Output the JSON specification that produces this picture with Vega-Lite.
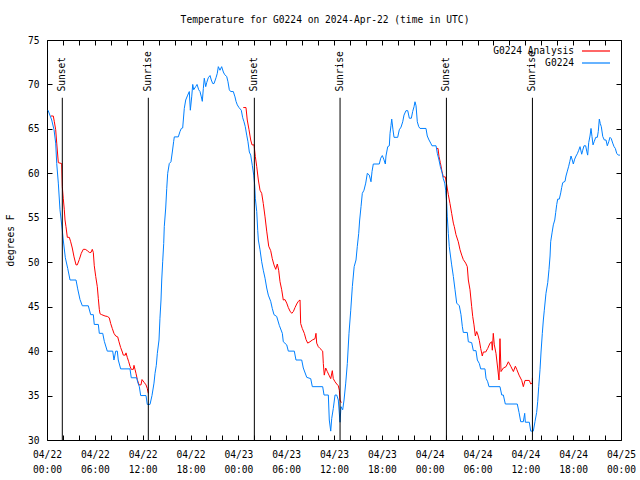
{
"$schema": "https://vega.github.io/schema/vega-lite/v6.json",
"width": 574, "height": 400,
"autosize": {"type": "none"},
"padding": {"left": 47, "top": 40, "right": 19, "bottom": 40},
"background": "white",
"title": {"text": "Temperature for G0224 on 2024-Apr-22 (time in UTC)", "font": "DejaVu Sans Mono", "fontSize": 9.6, "fontWeight": "normal", "color": "black", "anchor": "middle", "dx": -9, "offset": 0, "baseline": "bottom"},
"datasets": {
"obs": [
{"hours_utc":0.13,"temp_f":67.1},{"hours_utc":0.59,"temp_f":66.0},{"hours_utc":0.88,"temp_f":64.9},{"hours_utc":1.09,"temp_f":63.4},{"hours_utc":1.22,"temp_f":61.1},{"hours_utc":1.42,"temp_f":58.9},{"hours_utc":1.63,"temp_f":55.9},{"hours_utc":1.92,"temp_f":53.6},{"hours_utc":2.04,"temp_f":52.5},{"hours_utc":2.30,"temp_f":50.5},{"hours_utc":2.60,"temp_f":49.3},{"hours_utc":2.89,"temp_f":48.0},{"hours_utc":3.64,"temp_f":48.0},{"hours_utc":3.85,"temp_f":47.0},{"hours_utc":4.14,"temp_f":45.8},{"hours_utc":4.43,"temp_f":45.1},{"hours_utc":5.18,"temp_f":45.1},{"hours_utc":5.48,"temp_f":44.1},{"hours_utc":5.81,"temp_f":44.1},{"hours_utc":5.93,"temp_f":43.0},{"hours_utc":6.44,"temp_f":43.0},{"hours_utc":6.56,"temp_f":42.0},{"hours_utc":6.99,"temp_f":42.0},{"hours_utc":7.19,"temp_f":41.1},{"hours_utc":7.56,"temp_f":40.0},{"hours_utc":8.24,"temp_f":40.0},{"hours_utc":8.40,"temp_f":39.0},{"hours_utc":8.62,"temp_f":40.0},{"hours_utc":8.82,"temp_f":40.0},{"hours_utc":8.94,"temp_f":39.0},{"hours_utc":9.24,"temp_f":38.0},{"hours_utc":10.41,"temp_f":38.0},{"hours_utc":10.57,"temp_f":37.0},{"hours_utc":11.25,"temp_f":37.0},{"hours_utc":11.38,"temp_f":36.5},{"hours_utc":11.58,"temp_f":36.0},{"hours_utc":11.75,"temp_f":35.0},{"hours_utc":12.42,"temp_f":35.0},{"hours_utc":12.58,"temp_f":34.0},{"hours_utc":12.92,"temp_f":34.0},{"hours_utc":13.17,"temp_f":35.0},{"hours_utc":13.42,"temp_f":36.4},{"hours_utc":13.55,"temp_f":37.5},{"hours_utc":13.71,"temp_f":38.4},{"hours_utc":13.84,"temp_f":39.75},{"hours_utc":14.05,"temp_f":41.25},{"hours_utc":14.17,"temp_f":43.7},{"hours_utc":14.30,"temp_f":45.75},{"hours_utc":14.39,"temp_f":48.0},{"hours_utc":14.51,"temp_f":50.05},{"hours_utc":14.64,"temp_f":52.1},{"hours_utc":14.71,"temp_f":54.0},{"hours_utc":14.89,"temp_f":56.1},{"hours_utc":15.02,"temp_f":58.3},{"hours_utc":15.14,"temp_f":60.0},{"hours_utc":15.34,"temp_f":61.1},{"hours_utc":15.55,"temp_f":61.3},{"hours_utc":15.72,"temp_f":62.4},{"hours_utc":15.89,"temp_f":63.6},{"hours_utc":15.97,"temp_f":64.1},{"hours_utc":16.47,"temp_f":64.1},{"hours_utc":16.68,"temp_f":64.7},{"hours_utc":16.85,"temp_f":65.05},{"hours_utc":17.02,"temp_f":65.1},{"hours_utc":17.22,"temp_f":67.3},{"hours_utc":17.40,"temp_f":68.25},{"hours_utc":17.65,"temp_f":68.8},{"hours_utc":17.85,"temp_f":69.2},{"hours_utc":17.98,"temp_f":67.1},{"hours_utc":18.15,"temp_f":68.6},{"hours_utc":18.28,"temp_f":70.0},{"hours_utc":18.40,"temp_f":69.4},{"hours_utc":18.65,"temp_f":69.75},{"hours_utc":18.82,"temp_f":70.0},{"hours_utc":19.03,"temp_f":69.4},{"hours_utc":19.19,"temp_f":69.2},{"hours_utc":19.36,"temp_f":68.6},{"hours_utc":19.48,"temp_f":68.1},{"hours_utc":19.61,"temp_f":69.55},{"hours_utc":19.73,"temp_f":70.7},{"hours_utc":19.91,"temp_f":69.75},{"hours_utc":20.03,"temp_f":70.2},{"hours_utc":20.23,"temp_f":70.75},{"hours_utc":20.45,"temp_f":71.0},{"hours_utc":20.61,"temp_f":70.5},{"hours_utc":20.79,"temp_f":70.1},{"hours_utc":20.95,"temp_f":70.1},{"hours_utc":21.20,"temp_f":70.75},{"hours_utc":21.36,"temp_f":71.25},{"hours_utc":21.49,"temp_f":72.0},{"hours_utc":21.70,"temp_f":71.6},{"hours_utc":21.91,"temp_f":72.0},{"hours_utc":22.12,"temp_f":71.4},{"hours_utc":22.29,"temp_f":71.1},{"hours_utc":22.54,"temp_f":70.9},{"hours_utc":22.70,"temp_f":70.3},{"hours_utc":22.87,"temp_f":69.4},{"hours_utc":23.04,"temp_f":69.2},{"hours_utc":23.37,"temp_f":69.2},{"hours_utc":23.58,"temp_f":68.6},{"hours_utc":23.71,"temp_f":68.1},{"hours_utc":23.87,"temp_f":67.7},{"hours_utc":24.08,"temp_f":67.4},{"hours_utc":24.37,"temp_f":67.1},{"hours_utc":24.55,"temp_f":66.25},{"hours_utc":24.71,"temp_f":65.8},{"hours_utc":24.87,"temp_f":65.25},{"hours_utc":25.05,"temp_f":64.3},{"hours_utc":25.21,"temp_f":63.55},{"hours_utc":25.38,"temp_f":62.4},{"hours_utc":25.55,"temp_f":62.05},{"hours_utc":25.75,"temp_f":60.9},{"hours_utc":25.93,"temp_f":59.8},{"hours_utc":26.05,"temp_f":58.7},{"hours_utc":26.13,"temp_f":57.2},{"hours_utc":26.31,"temp_f":55.7},{"hours_utc":26.43,"temp_f":53.6},{"hours_utc":26.51,"temp_f":52.5},{"hours_utc":26.72,"temp_f":51.4},{"hours_utc":26.93,"temp_f":50.05},{"hours_utc":27.13,"temp_f":49.1},{"hours_utc":27.35,"temp_f":48.2},{"hours_utc":27.56,"temp_f":47.1},{"hours_utc":27.76,"temp_f":46.3},{"hours_utc":28.06,"temp_f":45.6},{"hours_utc":28.26,"temp_f":44.8},{"hours_utc":28.47,"temp_f":44.1},{"hours_utc":28.81,"temp_f":43.9},{"hours_utc":29.14,"temp_f":42.9},{"hours_utc":29.52,"temp_f":42.0},{"hours_utc":29.64,"temp_f":41.05},{"hours_utc":30.07,"temp_f":40.7},{"hours_utc":30.27,"temp_f":40.0},{"hours_utc":31.02,"temp_f":40.0},{"hours_utc":31.23,"temp_f":39.0},{"hours_utc":31.95,"temp_f":39.0},{"hours_utc":32.15,"temp_f":38.1},{"hours_utc":32.58,"temp_f":37.05},{"hours_utc":33.08,"temp_f":36.9},{"hours_utc":33.28,"temp_f":36.0},{"hours_utc":34.58,"temp_f":36.0},{"hours_utc":34.75,"temp_f":35.06},{"hours_utc":35.29,"temp_f":35.06},{"hours_utc":35.41,"temp_f":32.25},{"hours_utc":35.59,"temp_f":31.0},{"hours_utc":35.71,"temp_f":32.4},{"hours_utc":35.91,"temp_f":33.55},{"hours_utc":36.13,"temp_f":35.06},{"hours_utc":36.34,"temp_f":35.06},{"hours_utc":36.54,"temp_f":34.5},{"hours_utc":36.75,"temp_f":32.0},{"hours_utc":36.88,"temp_f":33.75},{"hours_utc":37.09,"temp_f":33.4},{"hours_utc":37.26,"temp_f":34.5},{"hours_utc":37.47,"temp_f":36.4},{"hours_utc":37.67,"temp_f":38.6},{"hours_utc":37.88,"temp_f":42.0},{"hours_utc":38.10,"temp_f":44.6},{"hours_utc":38.30,"temp_f":47.25},{"hours_utc":38.53,"temp_f":49.5},{"hours_utc":38.76,"temp_f":50.25},{"hours_utc":38.92,"temp_f":51.75},{"hours_utc":39.10,"temp_f":53.25},{"hours_utc":39.22,"temp_f":54.75},{"hours_utc":39.39,"temp_f":56.25},{"hours_utc":39.55,"temp_f":57.75},{"hours_utc":39.76,"temp_f":58.1},{"hours_utc":39.98,"temp_f":58.9},{"hours_utc":40.18,"temp_f":60.0},{"hours_utc":40.43,"temp_f":59.8},{"hours_utc":40.64,"temp_f":59.05},{"hours_utc":40.77,"temp_f":60.2},{"hours_utc":40.93,"temp_f":61.05},{"hours_utc":41.68,"temp_f":61.05},{"hours_utc":41.86,"temp_f":61.7},{"hours_utc":42.06,"temp_f":62.0},{"hours_utc":42.24,"temp_f":61.6},{"hours_utc":42.44,"temp_f":61.05},{"hours_utc":42.52,"temp_f":61.95},{"hours_utc":42.74,"temp_f":63.0},{"hours_utc":42.94,"temp_f":63.1},{"hours_utc":43.03,"temp_f":64.5},{"hours_utc":43.15,"temp_f":65.4},{"hours_utc":43.24,"temp_f":66.1},{"hours_utc":43.40,"temp_f":64.9},{"hours_utc":43.53,"temp_f":64.05},{"hours_utc":43.99,"temp_f":64.05},{"hours_utc":44.19,"temp_f":64.9},{"hours_utc":44.41,"temp_f":65.2},{"hours_utc":44.62,"temp_f":65.8},{"hours_utc":44.78,"temp_f":66.55},{"hours_utc":45.03,"temp_f":67.05},{"hours_utc":45.25,"temp_f":67.05},{"hours_utc":45.45,"temp_f":66.2},{"hours_utc":45.70,"temp_f":66.2},{"hours_utc":45.87,"temp_f":66.95},{"hours_utc":46.04,"temp_f":67.5},{"hours_utc":46.16,"temp_f":68.05},{"hours_utc":46.29,"temp_f":67.6},{"hours_utc":46.45,"temp_f":65.8},{"hours_utc":46.63,"temp_f":65.25},{"hours_utc":46.79,"temp_f":65.05},{"hours_utc":47.54,"temp_f":65.05},{"hours_utc":47.70,"temp_f":64.2},{"hours_utc":47.92,"temp_f":63.75},{"hours_utc":48.13,"temp_f":63.4},{"hours_utc":48.29,"temp_f":63.1},{"hours_utc":48.80,"temp_f":63.1},{"hours_utc":48.96,"temp_f":62.25},{"hours_utc":49.17,"temp_f":61.5},{"hours_utc":49.34,"temp_f":60.75},{"hours_utc":49.55,"temp_f":60.1},{"hours_utc":49.71,"temp_f":59.4},{"hours_utc":49.89,"temp_f":58.9},{"hours_utc":50.01,"temp_f":58.1},{"hours_utc":50.14,"temp_f":56.6},{"hours_utc":50.21,"temp_f":55.1},{"hours_utc":50.34,"temp_f":53.25},{"hours_utc":50.46,"temp_f":51.75},{"hours_utc":50.76,"temp_f":49.7},{"hours_utc":50.97,"temp_f":48.4},{"hours_utc":51.18,"temp_f":46.9},{"hours_utc":51.39,"temp_f":45.4},{"hours_utc":51.72,"temp_f":45.1},{"hours_utc":51.93,"temp_f":44.1},{"hours_utc":52.10,"temp_f":42.75},{"hours_utc":52.22,"temp_f":42.1},{"hours_utc":52.72,"temp_f":42.1},{"hours_utc":52.85,"temp_f":41.05},{"hours_utc":53.27,"temp_f":40.95},{"hours_utc":53.48,"temp_f":40.05},{"hours_utc":53.81,"temp_f":40.05},{"hours_utc":53.98,"temp_f":39.0},{"hours_utc":54.23,"temp_f":38.6},{"hours_utc":54.40,"temp_f":38.0},{"hours_utc":54.94,"temp_f":38.0},{"hours_utc":55.07,"temp_f":36.95},{"hours_utc":55.28,"temp_f":36.55},{"hours_utc":55.44,"temp_f":36.0},{"hours_utc":56.82,"temp_f":36.0},{"hours_utc":57.04,"temp_f":35.06},{"hours_utc":57.24,"temp_f":35.06},{"hours_utc":57.49,"temp_f":34.05},{"hours_utc":58.99,"temp_f":34.05},{"hours_utc":59.21,"temp_f":33.1},{"hours_utc":59.42,"temp_f":32.06},{"hours_utc":59.75,"temp_f":32.06},{"hours_utc":59.92,"temp_f":33.0},{"hours_utc":60.00,"temp_f":32.0},{"hours_utc":60.50,"temp_f":32.0},{"hours_utc":60.68,"temp_f":31.0},{"hours_utc":61.00,"temp_f":31.0},{"hours_utc":61.21,"temp_f":32.06},{"hours_utc":61.42,"temp_f":33.1},{"hours_utc":61.55,"temp_f":34.3},{"hours_utc":61.68,"temp_f":36.0},{"hours_utc":61.84,"temp_f":37.9},{"hours_utc":61.97,"temp_f":39.9},{"hours_utc":62.13,"temp_f":42.0},{"hours_utc":62.26,"temp_f":43.5},{"hours_utc":62.38,"temp_f":44.6},{"hours_utc":62.59,"temp_f":46.5},{"hours_utc":62.81,"temp_f":47.7},{"hours_utc":62.97,"temp_f":49.2},{"hours_utc":63.10,"temp_f":50.7},{"hours_utc":63.18,"temp_f":52.3},{"hours_utc":63.35,"temp_f":53.3},{"hours_utc":63.51,"temp_f":54.2},{"hours_utc":63.69,"temp_f":54.75},{"hours_utc":63.81,"temp_f":55.6},{"hours_utc":63.94,"temp_f":56.5},{"hours_utc":64.06,"temp_f":57.1},{"hours_utc":64.26,"temp_f":57.1},{"hours_utc":64.44,"temp_f":57.8},{"hours_utc":64.56,"temp_f":58.4},{"hours_utc":64.69,"temp_f":58.95},{"hours_utc":64.98,"temp_f":59.1},{"hours_utc":65.10,"temp_f":59.7},{"hours_utc":65.27,"temp_f":60.25},{"hours_utc":65.44,"temp_f":60.8},{"hours_utc":65.57,"temp_f":61.3},{"hours_utc":65.73,"temp_f":61.95},{"hours_utc":65.89,"temp_f":61.5},{"hours_utc":66.02,"temp_f":61.05},{"hours_utc":66.19,"temp_f":61.6},{"hours_utc":66.36,"temp_f":61.95},{"hours_utc":66.52,"temp_f":62.2},{"hours_utc":66.70,"temp_f":62.6},{"hours_utc":66.86,"temp_f":63.0},{"hours_utc":67.07,"temp_f":62.15},{"hours_utc":67.20,"temp_f":62.6},{"hours_utc":67.36,"temp_f":63.1},{"hours_utc":67.57,"temp_f":63.1},{"hours_utc":67.70,"temp_f":62.5},{"hours_utc":67.82,"temp_f":62.05},{"hours_utc":67.95,"temp_f":63.45},{"hours_utc":68.11,"temp_f":64.2},{"hours_utc":68.24,"temp_f":65.05},{"hours_utc":68.36,"temp_f":64.15},{"hours_utc":68.49,"temp_f":63.2},{"hours_utc":68.65,"temp_f":63.6},{"hours_utc":68.83,"temp_f":64.05},{"hours_utc":69.03,"temp_f":64.05},{"hours_utc":69.15,"temp_f":64.7},{"hours_utc":69.28,"temp_f":66.1},{"hours_utc":69.40,"temp_f":65.6},{"hours_utc":69.53,"temp_f":65.25},{"hours_utc":69.71,"temp_f":64.15},{"hours_utc":69.91,"temp_f":63.75},{"hours_utc":70.12,"temp_f":63.75},{"hours_utc":70.28,"temp_f":63.1},{"hours_utc":70.46,"temp_f":63.55},{"hours_utc":70.62,"temp_f":64.05},{"hours_utc":70.78,"temp_f":63.9},{"hours_utc":70.96,"temp_f":63.4},{"hours_utc":71.13,"temp_f":63.0},{"hours_utc":71.29,"temp_f":62.8},{"hours_utc":71.46,"temp_f":62.25},{"hours_utc":71.66,"temp_f":62.05},{"hours_utc":71.87,"temp_f":62.05}
],
"analysis": [
{"night":1,"hours_utc":0.50,"temp_f":66.45},{"night":1,"hours_utc":0.79,"temp_f":66.45},{"night":1,"hours_utc":0.92,"temp_f":65.8},{"night":1,"hours_utc":1.09,"temp_f":64.9},{"night":1,"hours_utc":1.22,"temp_f":63.4},{"night":1,"hours_utc":1.42,"temp_f":61.2},{"night":1,"hours_utc":1.84,"temp_f":61.1},{"night":1,"hours_utc":1.92,"temp_f":58.5},{"night":1,"hours_utc":2.04,"temp_f":57.2},{"night":1,"hours_utc":2.17,"temp_f":55.9},{"night":1,"hours_utc":2.26,"temp_f":54.75},{"night":1,"hours_utc":2.38,"temp_f":54.0},{"night":1,"hours_utc":2.55,"temp_f":52.8},{"night":1,"hours_utc":2.80,"temp_f":52.8},{"night":1,"hours_utc":2.97,"temp_f":52.3},{"night":1,"hours_utc":3.17,"temp_f":51.6},{"night":1,"hours_utc":3.39,"temp_f":50.6},{"night":1,"hours_utc":3.64,"temp_f":49.7},{"night":1,"hours_utc":3.80,"temp_f":49.7},{"night":1,"hours_utc":4.05,"temp_f":50.3},{"night":1,"hours_utc":4.30,"temp_f":51.0},{"night":1,"hours_utc":4.55,"temp_f":51.45},{"night":1,"hours_utc":4.80,"temp_f":51.45},{"night":1,"hours_utc":5.06,"temp_f":51.3},{"night":1,"hours_utc":5.31,"temp_f":51.1},{"night":1,"hours_utc":5.52,"temp_f":51.1},{"night":1,"hours_utc":5.68,"temp_f":51.45},{"night":1,"hours_utc":5.81,"temp_f":51.1},{"night":1,"hours_utc":5.93,"temp_f":49.6},{"night":1,"hours_utc":6.11,"temp_f":48.4},{"night":1,"hours_utc":6.31,"temp_f":47.25},{"night":1,"hours_utc":6.44,"temp_f":45.9},{"night":1,"hours_utc":6.56,"temp_f":44.7},{"night":1,"hours_utc":6.65,"temp_f":44.2},{"night":1,"hours_utc":6.86,"temp_f":44.1},{"night":1,"hours_utc":7.28,"temp_f":43.95},{"night":1,"hours_utc":7.56,"temp_f":43.9},{"night":1,"hours_utc":7.81,"temp_f":43.75},{"night":1,"hours_utc":7.99,"temp_f":43.1},{"night":1,"hours_utc":8.19,"temp_f":42.55},{"night":1,"hours_utc":8.40,"temp_f":42.0},{"night":1,"hours_utc":8.62,"temp_f":41.7},{"night":1,"hours_utc":8.87,"temp_f":41.6},{"night":1,"hours_utc":9.03,"temp_f":41.05},{"night":1,"hours_utc":9.24,"temp_f":40.4},{"night":1,"hours_utc":9.45,"temp_f":39.9},{"night":1,"hours_utc":9.57,"temp_f":39.55},{"night":1,"hours_utc":9.82,"temp_f":39.55},{"night":1,"hours_utc":9.91,"temp_f":39.8},{"night":1,"hours_utc":10.07,"temp_f":39.3},{"night":1,"hours_utc":10.25,"temp_f":38.8},{"night":1,"hours_utc":10.41,"temp_f":38.3},{"night":1,"hours_utc":10.57,"temp_f":37.95},{"night":1,"hours_utc":10.83,"temp_f":37.95},{"night":1,"hours_utc":10.91,"temp_f":38.4},{"night":1,"hours_utc":11.04,"temp_f":37.95},{"night":1,"hours_utc":11.16,"temp_f":37.5},{"night":1,"hours_utc":11.33,"temp_f":36.8},{"night":1,"hours_utc":11.54,"temp_f":36.2},{"night":1,"hours_utc":11.79,"temp_f":36.2},{"night":1,"hours_utc":11.92,"temp_f":36.8},{"night":1,"hours_utc":12.17,"temp_f":36.5},{"night":1,"hours_utc":12.42,"temp_f":36.2},{"night":1,"hours_utc":12.58,"temp_f":35.8},{"night":1,"hours_utc":12.71,"temp_f":35.25},
{"night":2,"hours_utc":24.62,"temp_f":67.4},{"night":2,"hours_utc":24.96,"temp_f":67.4},{"night":2,"hours_utc":25.12,"temp_f":66.0},{"night":2,"hours_utc":25.34,"temp_f":64.9},{"night":2,"hours_utc":25.55,"temp_f":63.75},{"night":2,"hours_utc":25.72,"temp_f":63.2},{"night":2,"hours_utc":25.97,"temp_f":63.2},{"night":2,"hours_utc":26.13,"temp_f":61.9},{"night":2,"hours_utc":26.31,"temp_f":60.75},{"night":2,"hours_utc":26.51,"temp_f":59.25},{"night":2,"hours_utc":26.72,"temp_f":58.1},{"night":2,"hours_utc":26.93,"temp_f":57.75},{"night":2,"hours_utc":27.13,"temp_f":56.6},{"night":2,"hours_utc":27.35,"temp_f":55.1},{"night":2,"hours_utc":27.56,"temp_f":53.5},{"night":2,"hours_utc":27.81,"temp_f":51.8},{"night":2,"hours_utc":28.06,"temp_f":51.3},{"night":2,"hours_utc":28.26,"temp_f":50.4},{"night":2,"hours_utc":28.47,"temp_f":49.7},{"night":2,"hours_utc":28.69,"temp_f":49.2},{"night":2,"hours_utc":28.89,"temp_f":49.8},{"night":2,"hours_utc":29.06,"temp_f":49.1},{"night":2,"hours_utc":29.23,"temp_f":47.8},{"night":2,"hours_utc":29.44,"temp_f":46.9},{"night":2,"hours_utc":29.64,"temp_f":45.75},{"night":2,"hours_utc":29.85,"temp_f":45.8},{"night":2,"hours_utc":30.07,"temp_f":45.4},{"night":2,"hours_utc":30.27,"temp_f":44.9},{"night":2,"hours_utc":30.48,"temp_f":44.5},{"night":2,"hours_utc":30.70,"temp_f":44.25},{"night":2,"hours_utc":30.90,"temp_f":44.45},{"night":2,"hours_utc":31.11,"temp_f":44.9},{"night":2,"hours_utc":31.32,"temp_f":45.3},{"night":2,"hours_utc":31.52,"temp_f":45.6},{"night":2,"hours_utc":31.74,"temp_f":45.75},{"night":2,"hours_utc":31.82,"temp_f":43.1},{"night":2,"hours_utc":32.02,"temp_f":42.55},{"night":2,"hours_utc":32.28,"temp_f":42.0},{"night":2,"hours_utc":32.49,"temp_f":41.3},{"night":2,"hours_utc":32.70,"temp_f":40.9},{"night":2,"hours_utc":32.99,"temp_f":41.05},{"night":2,"hours_utc":33.28,"temp_f":41.25},{"night":2,"hours_utc":33.62,"temp_f":41.4},{"night":2,"hours_utc":33.74,"temp_f":42.0},{"night":2,"hours_utc":33.83,"temp_f":40.9},{"night":2,"hours_utc":34.03,"temp_f":40.5},{"night":2,"hours_utc":34.24,"temp_f":40.3},{"night":2,"hours_utc":34.58,"temp_f":40.0},{"night":2,"hours_utc":34.66,"temp_f":38.6},{"night":2,"hours_utc":34.78,"temp_f":37.3},{"night":2,"hours_utc":34.96,"temp_f":38.1},{"night":2,"hours_utc":35.16,"temp_f":37.7},{"night":2,"hours_utc":35.37,"temp_f":37.3},{"night":2,"hours_utc":35.59,"temp_f":36.9},{"night":2,"hours_utc":35.79,"temp_f":37.8},{"night":2,"hours_utc":35.91,"temp_f":36.9},{"night":2,"hours_utc":36.13,"temp_f":36.55},{"night":2,"hours_utc":36.34,"temp_f":36.3},{"night":2,"hours_utc":36.54,"temp_f":36.1},{"night":2,"hours_utc":36.67,"temp_f":35.6},{"night":2,"hours_utc":36.75,"temp_f":34.5},{"night":2,"hours_utc":36.92,"temp_f":34.2},
{"night":3,"hours_utc":48.80,"temp_f":62.8},{"night":3,"hours_utc":49.05,"temp_f":62.8},{"night":3,"hours_utc":49.17,"temp_f":61.9},{"night":3,"hours_utc":49.34,"temp_f":61.2},{"night":3,"hours_utc":49.55,"temp_f":60.2},{"night":3,"hours_utc":49.71,"temp_f":59.6},{"night":3,"hours_utc":49.96,"temp_f":59.6},{"night":3,"hours_utc":50.14,"temp_f":58.7},{"night":3,"hours_utc":50.34,"temp_f":57.6},{"night":3,"hours_utc":50.55,"temp_f":56.6},{"night":3,"hours_utc":50.76,"temp_f":55.5},{"night":3,"hours_utc":50.97,"temp_f":54.4},{"night":3,"hours_utc":51.09,"temp_f":54.0},{"night":3,"hours_utc":51.30,"temp_f":53.1},{"night":3,"hours_utc":51.59,"temp_f":52.3},{"night":3,"hours_utc":51.81,"temp_f":51.4},{"night":3,"hours_utc":52.02,"temp_f":50.8},{"night":3,"hours_utc":52.22,"temp_f":50.3},{"night":3,"hours_utc":52.52,"temp_f":49.9},{"night":3,"hours_utc":52.72,"temp_f":49.5},{"night":3,"hours_utc":52.85,"temp_f":48.0},{"night":3,"hours_utc":53.06,"temp_f":46.9},{"night":3,"hours_utc":53.27,"temp_f":45.0},{"night":3,"hours_utc":53.40,"temp_f":43.9},{"night":3,"hours_utc":53.56,"temp_f":42.95},{"night":3,"hours_utc":53.73,"temp_f":41.7},{"night":3,"hours_utc":53.90,"temp_f":42.2},{"night":3,"hours_utc":54.06,"temp_f":41.8},{"night":3,"hours_utc":54.23,"temp_f":41.2},{"night":3,"hours_utc":54.40,"temp_f":40.3},{"night":3,"hours_utc":54.60,"temp_f":39.45},{"night":3,"hours_utc":54.73,"temp_f":39.9},{"night":3,"hours_utc":55.03,"temp_f":39.9},{"night":3,"hours_utc":55.28,"temp_f":40.3},{"night":3,"hours_utc":55.57,"temp_f":40.9},{"night":3,"hours_utc":55.78,"temp_f":41.05},{"night":3,"hours_utc":55.86,"temp_f":40.1},{"night":3,"hours_utc":55.98,"temp_f":42.0},{"night":3,"hours_utc":56.11,"temp_f":40.7},{"night":3,"hours_utc":56.32,"temp_f":39.75},{"night":3,"hours_utc":56.53,"temp_f":38.1},{"night":3,"hours_utc":56.70,"temp_f":36.75},{"night":3,"hours_utc":56.82,"temp_f":41.4},{"night":3,"hours_utc":56.95,"temp_f":37.7},{"night":3,"hours_utc":57.24,"temp_f":38.1},{"night":3,"hours_utc":57.58,"temp_f":38.25},{"night":3,"hours_utc":57.87,"temp_f":38.8},{"night":3,"hours_utc":58.17,"temp_f":38.3},{"night":3,"hours_utc":58.50,"temp_f":37.7},{"night":3,"hours_utc":58.75,"temp_f":38.3},{"night":3,"hours_utc":58.92,"temp_f":37.95},{"night":3,"hours_utc":59.21,"temp_f":37.3},{"night":3,"hours_utc":59.55,"temp_f":36.7},{"night":3,"hours_utc":59.75,"temp_f":36.0},{"night":3,"hours_utc":59.96,"temp_f":36.7},{"night":3,"hours_utc":60.50,"temp_f":36.7},{"night":3,"hours_utc":60.68,"temp_f":36.3},{"night":3,"hours_utc":60.88,"temp_f":36.4},{"night":3,"hours_utc":60.89,"temp_f":37.0}
],
"sun": [
{"event":"Sunset","hours_utc":1.92},{"event":"Sunrise","hours_utc":12.71},{"event":"Sunset","hours_utc":26.01},{"event":"Sunrise","hours_utc":36.76},{"event":"Sunset","hours_utc":50.10},{"event":"Sunrise","hours_utc":60.89}
]
},
"config": {
"view": {"stroke": null},
"axis": {"labelFont": "DejaVu Sans Mono", "labelFontSize": 9.6, "labelColor": "black", "titleFont": "DejaVu Sans Mono", "titleFontSize": 9.6, "titleFontWeight": "normal", "titleColor": "black", "domainColor": "black", "domainWidth": 1, "tickColor": "black", "tickWidth": 1, "grid": false, "labelOverlap": false, "labelFlush": false, "labelBound": false}
},
"resolve": {"axis": {"x": "independent", "y": "independent"}},
"layer": [
{
"data": {"name": "analysis"},
"mark": {"type": "line", "strokeWidth": 1, "interpolate": "linear"},
"encoding": {
"x": {"field": "hours_utc", "type": "quantitative", "scale": {"domain": [0, 72], "nice": false, "zero": false},
 "axis": {"orient": "bottom", "title": null, "values": [0,2,4,6,8,10,12,14,16,18,20,22,24,26,28,30,32,34,36,38,40,42,44,46,48,50,52,54,56,58,60,62,64,66,68,70,72], "tickSize": -5, "labelPadding": 14, "labelBaseline": "top", "labelAlign": "center", "labelLineHeight": 15,
 "labelExpr": "datum.value % 6 == 0 ? ['04/' + (22 + floor(datum.value / 24)), (datum.value % 24 < 10 ? '0' : '') + (datum.value % 24) + ':00'] : ''"}},
"y": {"field": "temp_f", "type": "quantitative", "scale": {"domain": [30, 75], "nice": false, "zero": false},
 "axis": {"orient": "left", "title": "degrees F", "values": [30,35,40,45,50,55,60,65,70,75], "tickSize": -5, "labelPadding": 13, "titleX": -37, "titleY": 200, "titleAngle": -90, "titleAlign": "center", "titleBaseline": "middle"}},
"detail": {"field": "night", "type": "nominal"},
"color": {"datum": "G0224 Analysis", "type": "nominal", "scale": {"domain": ["G0224 Analysis", "G0224"], "range": ["#ff0000", "#0080ff"]},
 "legend": {"title": null, "orient": "none", "legendX": 543, "legendY": 5, "direction": "vertical", "labelFont": "DejaVu Sans Mono", "labelFontSize": 9.6, "labelColor": "black", "labelAlign": "right", "labelOffset": -28, "symbolType": "M-2.8,0H2.8", "symbolSize": 100, "symbolStrokeWidth": 1.2, "rowPadding": 1, "padding": 0,
  "encode": {"symbols": {"update": {"stroke": {"scale": "color", "field": "value"}, "fill": {"value": "transparent"}, "strokeOpacity": {"value": 1}, "opacity": {"value": 1}}}}}}
}
},
{
"data": {"name": "obs"},
"mark": {"type": "line", "strokeWidth": 1, "interpolate": "linear"},
"encoding": {
"x": {"field": "hours_utc", "type": "quantitative",
 "axis": {"orient": "top", "title": null, "labels": false, "values": [0,2,4,6,8,10,12,14,16,18,20,22,24,26,28,30,32,34,36,38,40,42,44,46,48,50,52,54,56,58,60,62,64,66,68,70,72], "tickSize": -5}},
"y": {"field": "temp_f", "type": "quantitative",
 "axis": {"orient": "right", "title": null, "labels": false, "values": [30,35,40,45,50,55,60,65,70,75], "tickSize": -5}},
"color": {"datum": "G0224", "type": "nominal"}
}
},
{
"data": {"name": "sun"},
"mark": {"type": "rule", "color": "black", "strokeWidth": 1},
"encoding": {
"x": {"field": "hours_utc", "type": "quantitative", "axis": null},
"y": {"datum": 30, "type": "quantitative", "axis": null},
"y2": {"datum": 68.5}
}
},
{
"data": {"name": "sun"},
"mark": {"type": "text", "angle": 270, "align": "left", "baseline": "middle", "font": "DejaVu Sans Mono", "fontSize": 9.6, "color": "black"},
"encoding": {
"x": {"field": "hours_utc", "type": "quantitative", "axis": null},
"y": {"datum": 69.2, "type": "quantitative", "axis": null},
"text": {"field": "event", "type": "nominal"}
}
}
]
}
